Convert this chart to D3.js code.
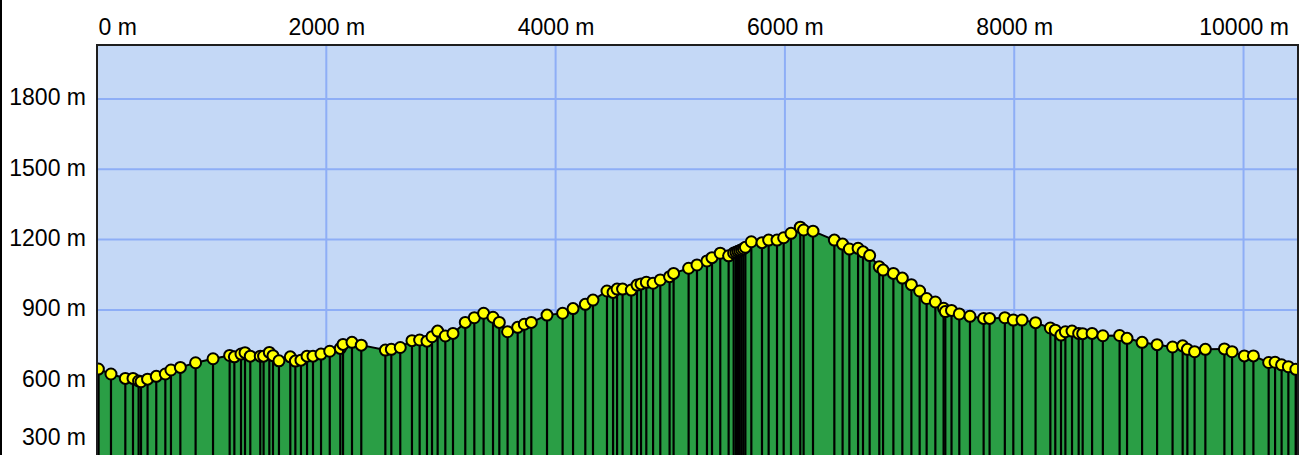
<!DOCTYPE html>
<html>
<head>
<meta charset="utf-8">
<script src="https://cdn.jsdelivr.net/npm/d3@7"></script>
<style>
  html, body { margin: 0; padding: 0; background: #fff; }
  svg { display: block; }
</style>
</head>
<body>
<svg id="root"></svg>
<script>
// profile points: distance along the track (m) and elevation (m)
const distance = [
  12, 122, 247, 314, 363, 384, 441, 517, 596, 645, 727, 860, 1012, 1157, 1198, 1256, 1291, 1337,
  1424, 1453, 1503, 1535, 1587, 1686, 1730, 1779, 1832, 1884, 1954, 2030, 2122, 2146, 2224, 2305,
  2515, 2567, 2645, 2747, 2814, 2878, 2922, 2971, 3038, 3105, 3212, 3291, 3372, 3454, 3509, 3581,
  3669, 3727, 3788, 3925, 4061, 4152, 4259, 4326, 4448, 4501, 4536, 4584, 4660, 4710, 4745, 4791,
  4850, 4913, 4994, 5029, 5160, 5233, 5320, 5364, 5436, 5509, 5553, 5573, 5590, 5606, 5622, 5638,
  5655, 5707, 5800, 5858, 5931, 5989, 6053, 6134, 6163, 6245, 6431, 6503, 6562, 6638, 6681, 6739,
  6823, 6856, 6946, 7024, 7103, 7175, 7236, 7312, 7384, 7399, 7453, 7521, 7614, 7733, 7785, 7918,
  7992, 8068, 8186, 8315, 8358, 8408, 8446, 8504, 8562, 8597, 8679, 8773, 8919, 8984, 9115, 9246,
  9381, 9469, 9510, 9573, 9667, 9833, 9900, 10007, 10086, 10219, 10275, 10332, 10391, 10456
];
const elevation = [
  648, 627, 608, 608, 597, 594, 605, 617, 627, 644, 655, 675, 692, 706, 700, 712, 718, 703,
  703, 703, 719, 705, 683, 700, 682, 686, 703, 703, 712, 724, 736, 753, 762, 750,
  729, 732, 740, 769, 772, 767, 786, 810, 789, 800, 847, 867, 886, 869, 847, 807,
  826, 839, 847, 878, 886, 906, 924, 942, 981, 975, 989, 989, 985, 1006, 1011, 1018,
  1014, 1028, 1042, 1056, 1078, 1092, 1109, 1123, 1142, 1131, 1143, 1146, 1150, 1153, 1157, 1161,
  1167, 1191, 1187, 1198, 1198, 1208, 1227, 1253, 1241, 1236, 1198, 1181, 1160, 1163, 1148, 1132,
  1084, 1070, 1056, 1036, 1008, 981, 949, 934, 907, 893, 898, 883, 873, 864, 864, 867,
  857, 857, 846, 823, 814, 793, 807, 810, 800, 799, 800, 790, 791, 779, 762, 752,
  742, 747, 732, 722, 732, 734, 722, 704, 704, 676, 677, 666, 658, 647
];
const xTicks = [0, 2000, 4000, 6000, 8000, 10000];
const yTicks = [300, 600, 900, 1200, 1500, 1800];

const width = 1301, height = 455;
const plot = { left: 97, top: 45, right: 1298, bottom: 521 };

const x = d3.scaleLinear().domain([0, 10475]).range([plot.left, plot.right]);
const y = d3.scaleLinear().domain([0, 2030]).range([plot.bottom, plot.top]);

const svg = d3.select("svg#root").attr("width", width).attr("height", height);

svg.append("defs").append("clipPath").attr("id", "plotClip")
  .append("rect")
  .attr("x", plot.left).attr("y", plot.top)
  .attr("width", plot.right - plot.left).attr("height", plot.bottom - plot.top);

// outer frame line on the left
svg.append("line")
  .attr("x1", 1).attr("x2", 1).attr("y1", 0).attr("y2", height)
  .attr("stroke", "#000").attr("stroke-width", 2);

const inner = svg.append("g").attr("clip-path", "url(#plotClip)");

inner.append("rect")
  .attr("x", plot.left).attr("y", plot.top)
  .attr("width", plot.right - plot.left).attr("height", plot.bottom - plot.top)
  .attr("fill", "#c4d8f6");

// grid
inner.append("g").selectAll("line").data(xTicks.filter((d) => d > 0)).join("line")
  .attr("x1", (d) => x(d)).attr("x2", (d) => x(d))
  .attr("y1", plot.top).attr("y2", plot.bottom)
  .attr("stroke", "#8eaef6").attr("stroke-width", 2);
inner.append("g").selectAll("line").data(yTicks).join("line")
  .attr("x1", plot.left).attr("x2", plot.right)
  .attr("y1", (d) => y(d)).attr("y2", (d) => y(d))
  .attr("stroke", "#8eaef6").attr("stroke-width", 2);

const pts = distance.map((d, i) => ({ d, e: elevation[i] }));

const area = d3.area()
  .x((p) => x(p.d))
  .y0(y(0))
  .y1((p) => y(p.e));

inner.append("path")
  .datum(pts)
  .attr("d", area)
  .attr("fill", "#2a9e45")
  .attr("stroke", "#000")
  .attr("stroke-width", 2)
  .attr("stroke-linejoin", "round");

// each point: drop line then marker, so the next line runs over the previous marker
const mark = inner.append("g").selectAll("g").data(pts).join("g");
mark.append("line")
  .attr("x1", (p) => x(p.d)).attr("x2", (p) => x(p.d))
  .attr("y1", (p) => y(p.e)).attr("y2", y(0))
  .attr("stroke", "#000").attr("stroke-width", 2.2);
mark.append("circle")
  .attr("cx", (p) => x(p.d)).attr("cy", (p) => y(p.e))
  .attr("r", 5.5)
  .attr("fill", "#ffff00")
  .attr("stroke", "#000")
  .attr("stroke-width", 2);

// plot border
svg.append("path")
  .attr("d", `M${plot.left},${height}V${plot.top}H${plot.right}V${height}`)
  .attr("fill", "none")
  .attr("stroke", "#1e1e1e")
  .attr("stroke-width", 2);

// axes
const fontFamily = "'Liberation Sans', Arial, sans-serif";

const xAxis = svg.append("g")
  .attr("transform", `translate(0,${plot.top})`)
  .call(d3.axisTop(x).tickValues(xTicks).tickSize(0).tickPadding(10).tickFormat((d) => `${d} m`));
xAxis.select(".domain").remove();
xAxis.selectAll("text")
  .attr("font-family", fontFamily).attr("font-size", 23).attr("fill", "#000")
  .filter((d) => d === 0)
  .attr("text-anchor", "start").attr("dx", 1);

const yAxis = svg.append("g")
  .attr("transform", `translate(${plot.left},0)`)
  .call(d3.axisLeft(y).tickValues(yTicks).tickSize(0).tickPadding(11).tickFormat((d) => `${d} m`));
yAxis.select(".domain").remove();
// labels near the lower edge are pushed up so they stay inside the picture
yAxis.selectAll("text")
  .attr("font-family", fontFamily).attr("font-size", 23).attr("fill", "#000")
  .attr("dy", "0.26em")
  .attr("y", (d) => Math.min(0, height - 10 - (y(d) + 6)));
</script>
</body>
</html>
